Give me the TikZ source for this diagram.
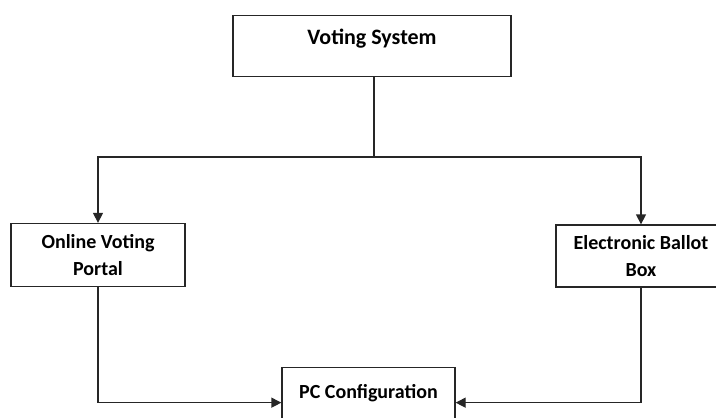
\documentclass[tikz,border=0pt]{standalone}
\usepackage{fontspec}
\setmainfont{Carlito}
\usetikzlibrary{arrows.meta}

\newcommand{\boxLineWidth}{1.3}
\newcommand{\linkLineWidth}{1.3}
\newcommand{\topBoxX}{372}
\newcommand{\topBoxY}{15}
\newcommand{\splitY}{157}
\newcommand{\onlineX}{98}
\newcommand{\ballotX}{641}
\newcommand{\midBoxY}{255}
\newcommand{\pcX}{368.5}
\newcommand{\pcY}{367}

\tikzset{
    blk/.style={draw=black!85, line width=\boxLineWidth, fill=white, align=center, font=\bfseries\fontsize{20}{27}\selectfont},
    link/.style={draw=black!85, line width=\linkLineWidth, -{Triangle[length=10pt,width=10pt]}}
}

\begin{document}
\begin{tikzpicture}[x=1pt, y=-1pt]
        \useasboundingbox (0,0) rectangle (716,418);

        % Boxes
        \node[blk, anchor=north, minimum width=278, inner ysep=0, text height=29pt, text depth=32pt, font=\bfseries\fontsize{22}{26}\selectfont] (vs) at (\topBoxX,\topBoxY) {Voting System};
        \node[blk, minimum width=174, minimum height=63] (ovp) at (\onlineX,\midBoxY) {Online Voting\\Portal};
        \node[blk, minimum width=170, minimum height=62] (ebb) at (\ballotX,\midBoxY+1) {Electronic Ballot\\Box};
        \node[blk, anchor=north, minimum width=173, inner ysep=0, text height=31pt, text depth=39pt] (pc) at (\pcX,\pcY) {PC Configuration};

        % Draw split
        \coordinate (split) at (374,\splitY);
        \draw [line width=\linkLineWidth, black!85] (vs.south -| split) -- (split);
        \draw [link] (split) -| (ovp.north);
        \draw [link] (split) -| (ebb.north);

        % Draw links to PC
        \draw [link] (ovp.south) |- (pc.west);
        \draw [link] (ebb.south) |- (pc.east);
    \end{tikzpicture}
\end{document}
